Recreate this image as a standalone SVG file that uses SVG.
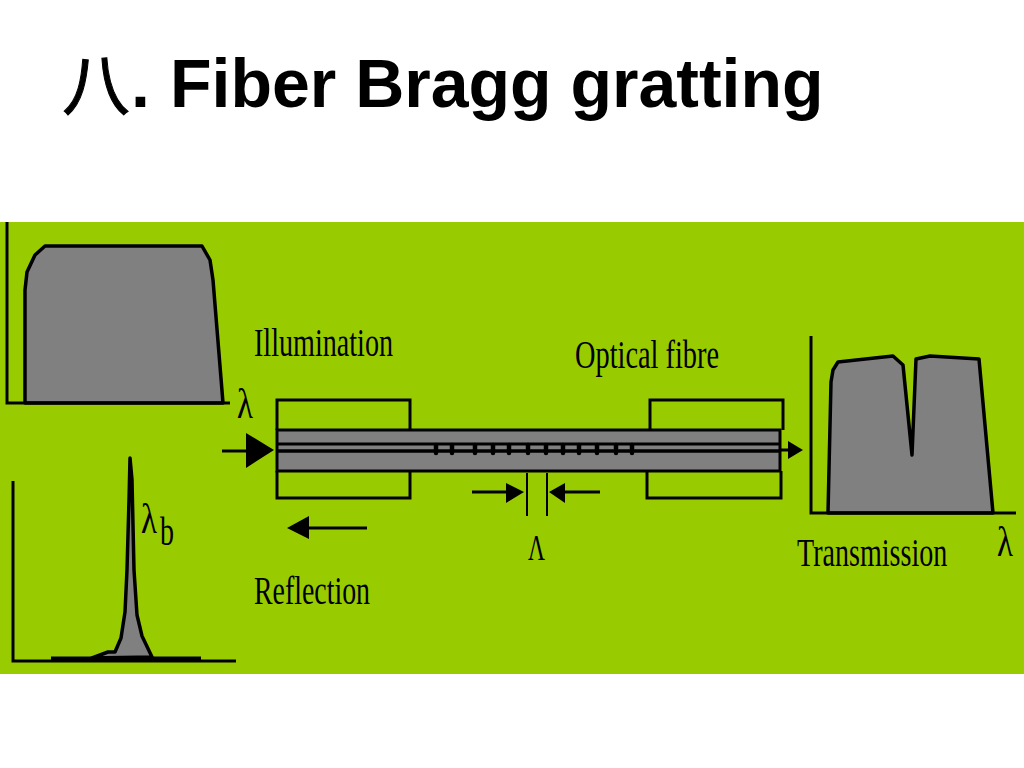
<svg xmlns="http://www.w3.org/2000/svg" width="1024" height="768" viewBox="0 0 1024 768">
<style>
.ln{fill:none;stroke:#000;stroke-width:3}
.sh{fill:#808080;stroke:#000;stroke-width:3.500;stroke-linejoin:round}
.ah{fill:#000;stroke:none}
.lb{font-family:"Liberation Serif","Times New Roman",serif;fill:#000}
.t{font-family:"Liberation Sans",Arial,"Noto Sans CJK SC",sans-serif;font-weight:700;font-size:68px;fill:#000}
.tk{stroke:#000;stroke-width:4.500;stroke-linecap:round}
</style>
<rect width="1024" height="768" fill="#fff"/>
<text id="title" class="t" y="107"><tspan x="62" y="110" font-family="'Noto Sans CJK SC',sans-serif" font-weight="400" font-size="68" stroke="#000" stroke-width="1">八</tspan><tspan x="131" y="107">.</tspan><tspan x="170" y="107">Fiber Bragg gratting</tspan></text>
<rect id="panel" x="0" y="222" width="1024" height="452" fill="#99cc00"/>

<g id="illumination-spectrum">
<polygon class="sh" points="25,403 25,290 27,272 35,255 45,246 202,246 210,260 213,280 223,403"/>
<polyline class="ln" points="7,222 7,403 230,403"/>
<text class="lb" x="237" y="418" font-size="42" textLength="16" lengthAdjust="spacingAndGlyphs">λ</text>
</g>

<g id="reflection-spectrum">
<polygon class="sh" points="92,658 108,652 115,652 121,638 125,612 127,570 129,500 130,458 132,480 134,570 137,615 142,636 152,657"/>
<polyline class="ln" points="13,481 13,661 236,661"/>
<line x1="51" y1="658.500" x2="201" y2="658.500" stroke="#000" stroke-width="4"/>
<text class="lb" x="141" y="533" font-size="42" textLength="16" lengthAdjust="spacingAndGlyphs">λ</text>
<text class="lb" x="160" y="545" font-size="41" textLength="14" lengthAdjust="spacingAndGlyphs">b</text>
</g>

<g id="transmission-spectrum">
<polygon class="sh" points="828,513 831,382 833,370 838,362 893,356 903,365 912,455 916,359 930,356 979,359 993,513"/>
<polyline class="ln" points="811,336 811,513 1016,513"/>
<text class="lb" x="997" y="556" font-size="42" textLength="16" lengthAdjust="spacingAndGlyphs">λ</text>
</g>

<g id="cladding">
<polyline class="ln" points="277,430 277,400 410,400 410,430"/>
<polyline class="ln" points="277,471 277,498 410,498 410,471"/>
<polyline class="ln" points="650,430 650,400 783,400 783,430"/>
<polyline class="ln" points="647,471 647,498 781,498 781,471"/>
</g>

<g id="fibre">
<rect x="277" y="430" width="503" height="41" fill="#808080" stroke="#000" stroke-width="3"/>
<line x1="277" y1="444" x2="780" y2="444" stroke="#000" stroke-width="3"/>
<line x1="277" y1="451" x2="780" y2="451" stroke="#000" stroke-width="3.500"/>
</g>

<g id="grating">
<path class="tk" d="M436 445V453M452 445V453M475 445V453M493 445V453M509 445V453M528 445V453M546 445V453M563 445V453M579 445V453M597 445V453M616 445V453M632 445V453"/>
</g>

<g id="connectors">
<line class="ln" x1="222" y1="451" x2="248" y2="451"/>
<polygon class="ah" points="246,433 274,450 246,468"/>
<line class="ln" x1="780" y1="450" x2="790" y2="450"/>
<polygon class="ah" points="788,441 803,450 788,459"/>
<line class="ln" x1="308" y1="528" x2="367" y2="528"/>
<polygon class="ah" points="287,528 309,516 309,539"/>
<line class="ln" x1="472" y1="492" x2="507" y2="492"/>
<polygon class="ah" points="506,483 524,492 506,503"/>
<line class="ln" x1="564" y1="492" x2="600" y2="492"/>
<polygon class="ah" points="549,492 565,483 565,503"/>
<line x1="527" y1="473" x2="527" y2="516" stroke="#000" stroke-width="2"/>
<line x1="547" y1="473" x2="547" y2="516" stroke="#000" stroke-width="2"/>
</g>

<g id="labels">
<text class="lb" x="254" y="356" font-size="41" textLength="139" lengthAdjust="spacingAndGlyphs">Illumination</text>
<text class="lb" x="575" y="368" font-size="41" textLength="144" lengthAdjust="spacingAndGlyphs">Optical fibre</text>
<text class="lb" x="254" y="604" font-size="41" textLength="116" lengthAdjust="spacingAndGlyphs">Reflection</text>
<text class="lb" transform="translate(797 566) scale(.685 1)" font-size="41">Transmission</text>
<text class="lb" x="528" y="560" font-size="35" textLength="17" lengthAdjust="spacingAndGlyphs">Λ</text>
</g>
</svg>
